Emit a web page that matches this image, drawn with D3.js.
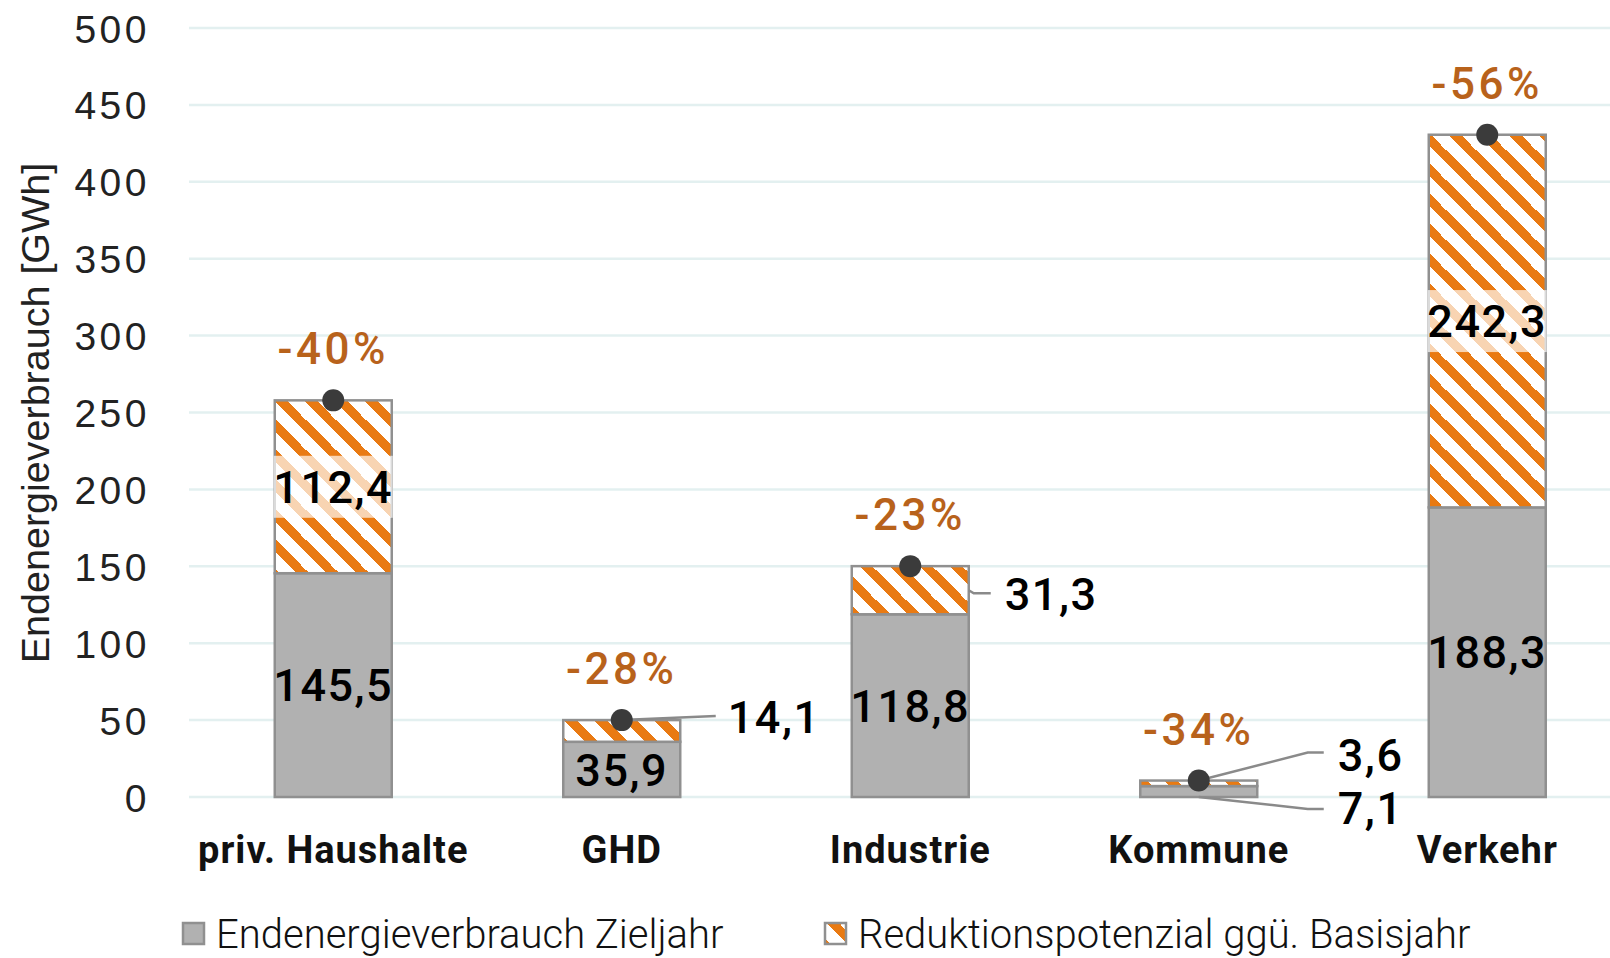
<!DOCTYPE html>
<html><head><meta charset="utf-8">
<script src="https://cdn.jsdelivr.net/npm/d3@7"></script>
<style>
html,body{margin:0;padding:0;background:#fff;overflow:hidden}
svg{display:block}
</style></head>
<body>
<svg id="c" width="1610" height="958"></svg>
<script>
const categories = ["priv. Haushalte","GHD","Industrie","Kommune","Verkehr"];
const zieljahr = [145.5, 35.9, 118.8, 7.1, 188.3];
const reduktion = [112.4, 14.1, 31.3, 3.6, 242.3];
const prozent = ["-40%","-28%","-23%","-34%","-56%"];
const yTicks = [0,50,100,150,200,250,300,350,400,450,500];
const seriesNames = ["Endenergieverbrauch Zieljahr","Reduktionspotenzial ggü. Basisjahr"];

const svg = d3.select("#c");
const fmt = d3.formatLocale({decimal:",", thousands:".", grouping:[3], currency:["","€"]}).format(".1f");

const x = d3.scaleBand().domain(categories).range([189, 1631.5]).paddingInner(0.5945).paddingOuter(0.5945/2);
const y = d3.scaleLinear().domain([0,500]).range([797,28]);

const ORANGE = "#E97A12", GREY="#B1B1B1", EDGE="#909090";

// pattern
const defs = svg.append("defs");
const pat = defs.append("pattern").attr("id","hatch").attr("patternUnits","userSpaceOnUse")
  .attr("width",30).attr("height",30).attr("x",0).attr("y",0);
pat.append("rect").attr("width",30).attr("height",30).attr("fill","#fff");
pat.append("path").attr("d","M0,0L30,30 M15,-15L45,15 M-15,15L15,45")
  .attr("stroke",ORANGE).attr("stroke-width",8.5).attr("shape-rendering","crispEdges");

// gridlines
svg.append("g").selectAll("line").data(yTicks).join("line")
  .attr("x1",189).attr("x2",1610).attr("y1",d=>y(d)).attr("y2",d=>y(d))
  .attr("stroke","#E3F0F0").attr("stroke-width",2.5);

// y axis labels
const yAxis = d3.axisLeft(y).tickValues(yTicks).tickSize(0).tickPadding(0).tickFormat(d=>d);
const ga = svg.append("g").attr("transform","translate(150,0)").call(yAxis);
ga.select(".domain").remove();
ga.selectAll("text").attr("font-family","'Liberation Sans', Arial, sans-serif").attr("font-size",39)
  .attr("letter-spacing","3.5px").attr("fill","#222").attr("dy","0.36em");

// y title
svg.append("text").attr("transform","translate(49,413) rotate(-90)").attr("text-anchor","middle")
  .attr("font-family","'Liberation Sans', Arial, sans-serif").attr("font-size",39.5).attr("fill","#222")
  .text("Endenergieverbrauch [GWh]");

// x axis labels
const xAxis = d3.axisBottom(x).tickSize(0).tickPadding(0);
const gx = svg.append("g").attr("transform","translate(0,863)").call(xAxis);
gx.select(".domain").remove();
gx.selectAll("text").attr("font-family","Roboto, sans-serif").attr("font-weight",700)
  .attr("font-size",38).attr("letter-spacing","1px").attr("fill","#111").attr("dy",0);

const data = categories.map((c,i)=>({c, a:zieljahr[i], b:reduktion[i], p:prozent[i], i}));
const bw = x.bandwidth();

// bars
svg.append("g").selectAll("rect").data(data).join("rect")
  .attr("x",d=>x(d.c)).attr("width",bw).attr("y",d=>y(d.a)).attr("height",d=>y(0)-y(d.a))
  .attr("fill",GREY).attr("stroke",EDGE).attr("stroke-width",2.5);
svg.append("g").selectAll("rect").data(data).join("rect")
  .attr("x",d=>x(d.c)).attr("width",bw).attr("y",d=>y(d.a+d.b)).attr("height",d=>y(d.a)-y(d.a+d.b))
  .attr("fill","url(#hatch)").attr("stroke",EDGE).attr("stroke-width",2.5);

const inside = d=>d.b>=100;
const insideA = d=>d.a>=30;
const labelFont = g=>g.attr("font-family","Roboto, sans-serif").attr("font-weight",500)
  .attr("font-size",45).attr("letter-spacing","1.5px").attr("fill","#000");

// label boxes for reduktion inside
svg.append("g").selectAll("rect").data(data.filter(inside)).join("rect")
  .attr("x",d=>x(d.c)-1).attr("width",bw+2).attr("y",d=>y(d.a+d.b/2)-31).attr("height",62)
  .attr("fill","#fff").attr("opacity",0.68);

// inside labels
svg.append("g").selectAll("text").data(data.filter(insideA)).join("text")
  .attr("x",d=>x(d.c)+bw/2).attr("y",d=>y(d.a/2)).attr("dy","0.36em").attr("text-anchor","middle")
  .call(labelFont).text(d=>fmt(d.a));
svg.append("g").selectAll("text").data(data.filter(inside)).join("text")
  .attr("x",d=>x(d.c)+bw/2).attr("y",d=>y(d.a+d.b/2)).attr("dy","0.36em").attr("text-anchor","middle")
  .call(labelFont).text(d=>fmt(d.b));

// leader lines + outside labels
const lead = svg.append("g").attr("fill","none").attr("stroke","#8a8a8a").attr("stroke-width",2.5);
const outs = [];
data.forEach(d=>{
  const cx = x(d.c)+bw/2, top=y(d.a+d.b);
  if(d.c==="GHD"){
    lead.append("path").attr("d",`M${cx},${top}L${cx+94},${top-4}`);
    outs.push({x:cx+106,y:top-3,t:fmt(d.b)});
  } else if(d.c==="Industrie"){
    const ym = y(d.a+d.b/2), xr = x(d.c)+bw;
    lead.append("path").attr("d",`M${xr},${ym}L${xr+5},${ym+3}L${xr+22},${ym+3}`);
    outs.push({x:xr+36,y:ym+4,t:fmt(d.b)});
  } else if(d.c==="Kommune"){
    lead.append("path").attr("d",`M${cx},${top}L${cx+109},${top-28}L${cx+125},${top-28}`);
    outs.push({x:cx+139,y:top-26,t:fmt(d.b)});
    lead.append("path").attr("d",`M${cx},${y(0)}L${cx+109},${y(0)+12}L${cx+125},${y(0)+12}`);
    outs.push({x:cx+139,y:y(0)+11,t:fmt(d.a)});
  }
});
svg.append("g").selectAll("text").data(outs).join("text")
  .attr("x",d=>d.x).attr("y",d=>d.y).attr("dy","0.36em").call(labelFont).text(d=>d.t);

// dots
svg.append("g").selectAll("circle").data(data).join("circle")
  .attr("cx",d=>x(d.c)+bw/2).attr("cy",d=>y(d.a+d.b)).attr("r",11).attr("fill","#3b3b3b");

// percent labels
svg.append("g").selectAll("text").data(data).join("text")
  .attr("x",d=>x(d.c)+bw/2).attr("y",d=>y(d.a+d.b)-36).attr("text-anchor","middle")
  .attr("font-family","Roboto, sans-serif").attr("font-weight",500).attr("font-size",44)
  .attr("letter-spacing","3.5px").attr("fill","#B8621B").text(d=>d.p);

// legend
const leg = svg.append("g");
const legX = [182, 824];
seriesNames.forEach((n,i)=>{
  leg.append("rect").attr("x",legX[i]+1).attr("y",923).attr("width",21).attr("height",21)
    .attr("fill",i===0?GREY:"url(#hatch)").attr("stroke",EDGE).attr("stroke-width",2.5);
  leg.append("text").attr("x",legX[i]+34).attr("y",934).attr("dy","0.36em")
    .attr("font-family","Roboto, sans-serif").attr("font-weight",300).attr("font-size",40)
    .attr("fill","#111").text(n);
});
</script>
</body></html>
